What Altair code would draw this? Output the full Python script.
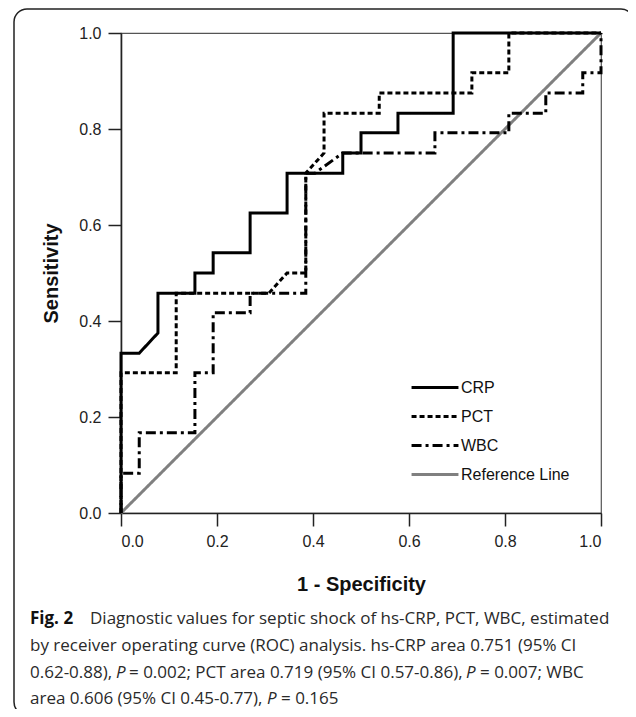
import altair as alt
import pandas as pd

# ---- data ----
series_order = ["CRP", "PCT", "WBC", "Reference Line"]

crp_x = [0.0, 0.0, 0.038, 0.077, 0.077, 0.154, 0.154, 0.192, 0.192, 0.269, 0.269,
         0.346, 0.346, 0.462, 0.462, 0.5, 0.5, 0.577, 0.577, 0.692, 0.692, 1.0]
crp_y = [0.0, 0.333, 0.333, 0.375, 0.458, 0.458, 0.5, 0.5, 0.542, 0.542, 0.625,
         0.625, 0.708, 0.708, 0.75, 0.75, 0.792, 0.792, 0.833, 0.833, 1.0, 1.0]

pct_x = [0.0, 0.0, 0.115, 0.115, 0.308, 0.346, 0.385, 0.385, 0.423, 0.423, 0.538,
         0.538, 0.731, 0.731, 0.808, 0.808, 1.0]
pct_y = [0.0, 0.292, 0.292, 0.458, 0.458, 0.5, 0.5, 0.708, 0.75, 0.833, 0.833,
         0.875, 0.875, 0.917, 0.917, 1.0, 1.0]

wbc_x = [0.0, 0.0, 0.038, 0.038, 0.154, 0.154, 0.192, 0.192, 0.269, 0.269, 0.385,
         0.385, 0.404, 0.462, 0.654, 0.654, 0.808, 0.808, 0.885, 0.885, 0.962,
         0.962, 1.0, 1.0]
wbc_y = [0.0, 0.083, 0.083, 0.167, 0.167, 0.292, 0.292, 0.417, 0.417, 0.458, 0.458,
         0.708, 0.708, 0.75, 0.75, 0.792, 0.792, 0.833, 0.833, 0.875, 0.875,
         0.917, 0.917, 1.0]

ref_x = [0.0, 1.0]
ref_y = [0.0, 1.0]

axis_ticks = [0.0, 0.2, 0.4, 0.6, 0.8, 1.0]

caption_lines = [
    [("Fig. 2", "bold", "normal", -91),
     ("Diagnostic values for septic shock of hs-CRP, PCT, WBC, estimated", "normal", "normal", -31)],
    [("by receiver operating curve (ROC) analysis. hs-CRP area 0.751 (95% CI", "normal", "normal", -91)],
    [("0.62-0.88),", "normal", "normal", -91),
     ("P", "normal", "italic", -5),
     ("= 0.002; PCT area 0.719 (95% CI 0.57-0.86),", "normal", "normal", 8),
     ("P", "normal", "italic", 345),
     ("= 0.007; WBC", "normal", "normal", 359)],
    [("area 0.606 (95% CI 0.45-0.77),", "normal", "normal", -91),
     ("P", "normal", "italic", 146),
     ("= 0.165", "normal", "normal", 160)],
]
caption_baselines = [591, 618, 644.5, 671]

# ---- build table ----
rows = []
for name, xs, ys in [("Reference Line", ref_x, ref_y), ("WBC", wbc_x, wbc_y),
                     ("PCT", pct_x, pct_y), ("CRP", crp_x, crp_y)]:
    for i, (xv, yv) in enumerate(zip(xs, ys)):
        rows.append({"series": name, "fpr": xv, "tpr": yv, "i": i})
df = pd.DataFrame(rows)

label_font = "Liberation Sans"
caption_font = "Open Sans"

lines = alt.Chart(df).mark_line(strokeCap="butt", strokeJoin="miter").encode(
    x=alt.X("fpr:Q",
            scale=alt.Scale(domain=[0, 1], nice=False, zero=False),
            axis=alt.Axis(values=axis_ticks, format=".1f", grid=False,
                          title="1 - Specificity",
                          titleFont=label_font, titleFontSize=20, titleFontWeight="bold",
                          titleColor="#111", titleX=240, titleY=77,
                          titleBaseline="alphabetic", titleAnchor="middle", titleAlign="center",
                          labelFont=label_font, labelFontSize=16, labelColor="#222",
                          labelPadding=7, tickSize=13, tickWidth=1.5, tickColor="#222",
                          domainColor="#222", domainWidth=1.6)),
    y=alt.Y("tpr:Q",
            scale=alt.Scale(domain=[0, 1], nice=False, zero=False),
            axis=alt.Axis(values=axis_ticks, format=".1f", grid=False,
                          title="Sensitivity",
                          titleFont=label_font, titleFontSize=20, titleFontWeight="bold",
                          titleColor="#111", titleX=-64, titleY=240, titleAngle=270,
                          titleBaseline="alphabetic", titleAlign="center",
                          labelFont=label_font, labelFontSize=16, labelColor="#222",
                          labelPadding=7, tickSize=13, tickWidth=1.5, tickColor="#222",
                          domainColor="#222", domainWidth=1.6)),
    color=alt.Color("series:N",
                    scale=alt.Scale(domain=series_order,
                                    range=["#000000", "#000000", "#000000", "#808080"]),
                    legend=alt.Legend(title=None, orient="none", legendX=289, legendY=340,
                                      symbolType="stroke", symbolSize=2200,
                                      clipHeight=29,
                                      labelFont=label_font, labelFontSize=16,
                                      labelColor="#111", labelOffset=1, rowPadding=0,
                                      padding=0)),
    strokeDash=alt.StrokeDash("series:N",
                              scale=alt.Scale(domain=series_order,
                                              range=[[1, 0], [5, 3], [10, 4, 3, 4], [1, 0]])),
    strokeWidth=alt.StrokeWidth("series:N",
                                scale=alt.Scale(domain=series_order, range=[3, 3, 3, 1])),
    order="i:Q",
)

one = pd.DataFrame({"k": [0]})

frame = alt.Chart(one).mark_rect(fill=None, stroke="#222", strokeWidth=1.5,
                                 cornerRadius=13).encode(
    x=alt.value(-107), x2=alt.value(513), y=alt.value(-24), y2=alt.value(682))

layers = [frame, lines]
for line, base in zip(caption_lines, caption_baselines):
    for text, weight, style, xpos in line:
        layers.append(
            alt.Chart(one).mark_text(text=text, align="left", baseline="alphabetic",
                                     font=caption_font, fontSize=17, fontWeight=weight,
                                     fontStyle=style,
                                     color="#111" if weight == "bold" else "#2a2a2a").encode(
                x=alt.value(xpos), y=alt.value(base)))

chart = alt.layer(*layers).properties(
    width=480, height=480,
    autosize=alt.AutoSizeParams(type="none"),
    padding={"left": 113, "top": 25, "right": 27, "bottom": 196},
    background="white",
).configure_view(stroke="#555", strokeWidth=1.2)

chart.save("out.html", embed_options={"renderer": "svg", "actions": False})
